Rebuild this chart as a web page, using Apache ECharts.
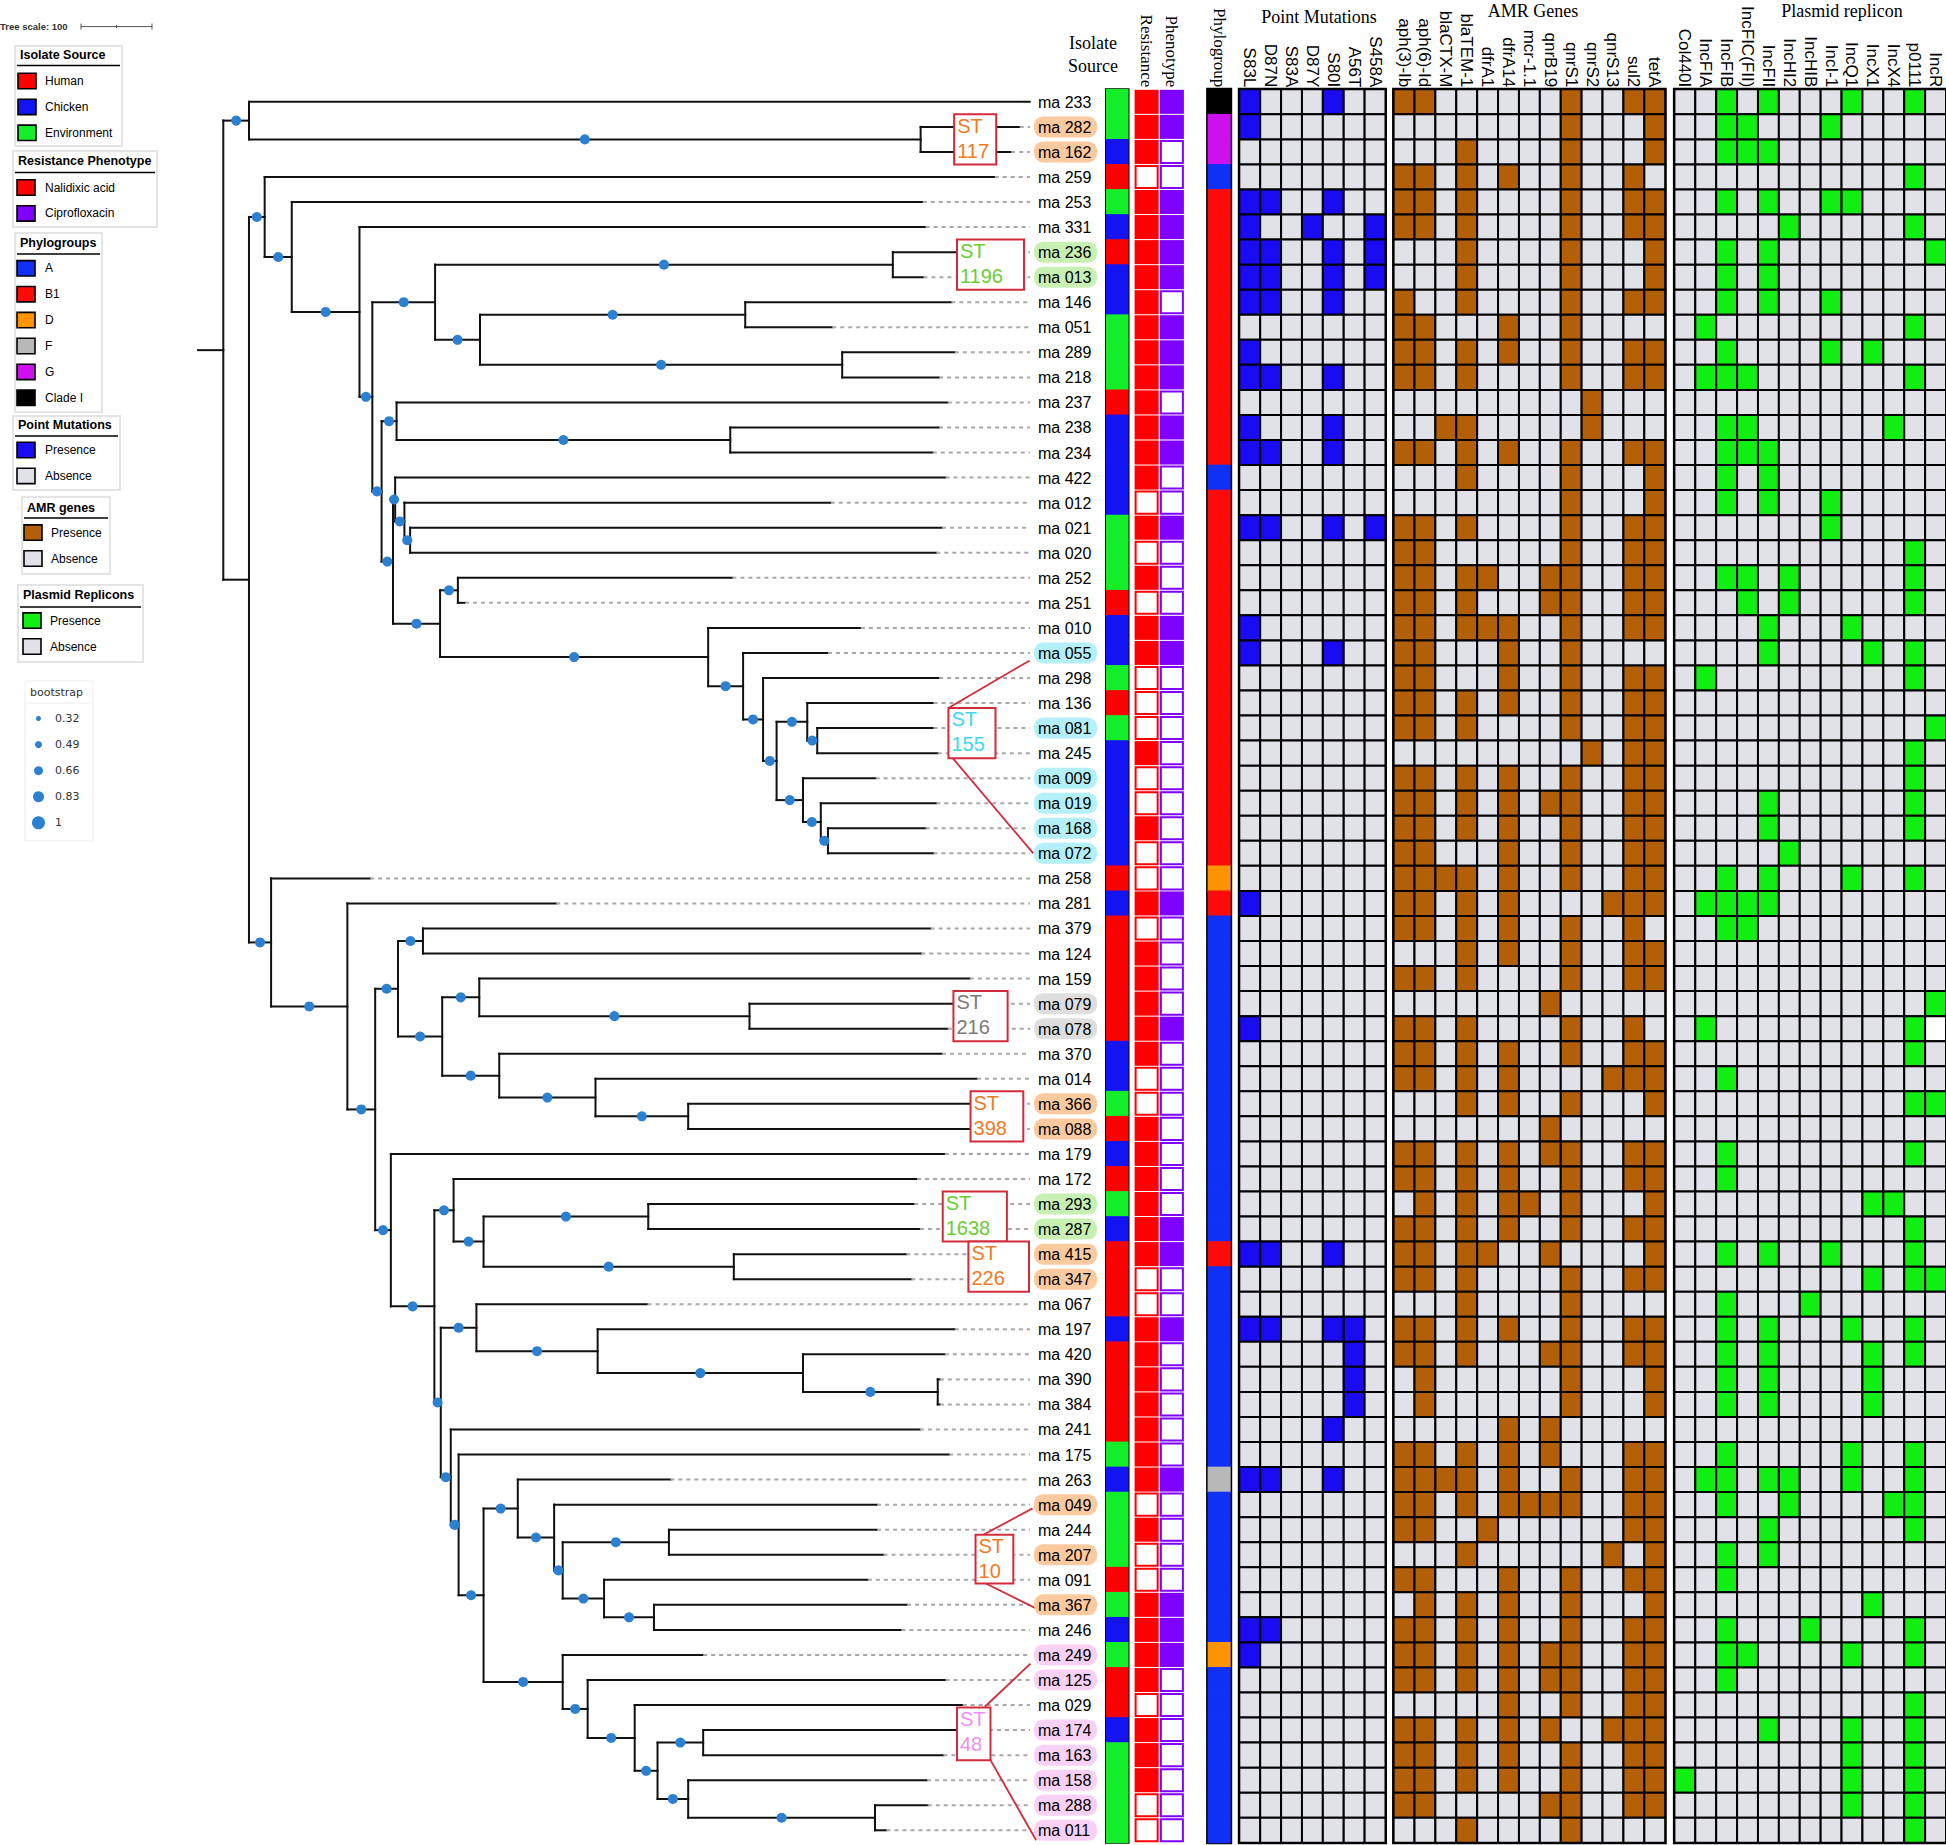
<!DOCTYPE html>
<html>
<head>
<meta charset="utf-8">
<script src="https://cdn.jsdelivr.net/npm/echarts@6.0.0/dist/echarts.min.js"></script>
<style>
html,body{margin:0;padding:0;background:#fff;}
#chart{width:1946px;height:1845px;}
</style>
</head>
<body>
<div id="chart"></div>
<script>
// ================= DATA =================
const isolates = ['ma 233','ma 282','ma 162','ma 259','ma 253','ma 331','ma 236','ma 013','ma 146','ma 051',
'ma 289','ma 218','ma 237','ma 238','ma 234','ma 422','ma 012','ma 021','ma 020','ma 252',
'ma 251','ma 010','ma 055','ma 298','ma 136','ma 081','ma 245','ma 009','ma 019','ma 168',
'ma 072','ma 258','ma 281','ma 379','ma 124','ma 159','ma 079','ma 078','ma 370','ma 014',
'ma 366','ma 088','ma 179','ma 172','ma 293','ma 287','ma 415','ma 347','ma 067','ma 197',
'ma 420','ma 390','ma 384','ma 241','ma 175','ma 263','ma 049','ma 244','ma 207','ma 091',
'ma 367','ma 246','ma 249','ma 125','ma 029','ma 174','ma 163','ma 158','ma 288','ma 011'];

// isolate source: H = Human, C = Chicken, E = Environment
const sourceCodes = ['E','E','C','H','E','C','H','C','C','E',
'E','E','H','C','C','C','C','E','E','E',
'H','C','C','E','H','E','C','C','C','C',
'C','H','C','H','H','H','H','H','C','C',
'E','H','C','H','E','C','H','H','H','C',
'H','H','H','H','E','C','E','E','E','H',
'E','C','E','H','H','C','E','E','E','E'];

const nalidixic = [1,1,1,0,1,1,1,1,1,1, 1,1,1,1,1,1,0,1,0,1, 0,1,1,0,0,0,1,0,0,1,
0,0,1,0,1,1,1,1,1,0, 0,1,1,1,1,1,1,0,0,1, 1,1,1,1,1,1,0,1,0,0, 1,1,1,1,0,1,1,1,0,0];
const ciprofloxacin = [1,1,0,0,1,1,1,1,0,1, 1,1,0,1,1,0,0,1,0,0, 0,1,1,0,0,0,0,0,0,0,
0,0,1,0,0,0,0,1,0,0, 0,0,0,0,0,1,1,0,0,1, 0,0,0,0,0,1,0,0,0,0, 1,1,1,0,0,0,0,0,0,0];

// phylogroup: A, B (=B1), D, F, G, I (=Clade I)
const phylogroups = ['I','G','G','A','B','B','B','B','B','B',
'B','B','B','B','B','A','B','B','B','B',
'B','B','B','B','B','B','B','B','B','B',
'B','D','B','A','A','A','A','A','A','A',
'A','A','A','A','A','A','B','A','A','A',
'A','A','A','A','A','F','A','A','A','A',
'A','A','D','A','A','A','A','A','A','A'];

const pmColumns = ['S83L','D87N','S83A','D87Y','S80I','A56T','S458A'];
const pmRows = ['1000100','1000000','0000000','0000000','1100100','1001001','1100101','1100101','1100100','0000000',
'1000000','1100100','0000000','1000100','1100100','0000000','0000000','1100101','0000000','0000000',
'0000000','1000000','1000100','0000000','0000000','0000000','0000000','0000000','0000000','0000000',
'0000000','0000000','1000000','0000000','0000000','0000000','0000000','1000000','0000000','0000000',
'0000000','0000000','0000000','0000000','0000000','0000000','1100100','0000000','0000000','1100110',
'0000010','0000010','0000010','0000100','0000000','1100100','0000000','0000000','0000000','0000000',
'0000000','1100000','1000000','0000000','0000000','0000000','0000000','0000000','0000000','0000000'];

const amrColumns = ['aph(3)-Ib','aph(6)-Id','blaCTX-M','blaTEM-1','dfrA1','dfrA14','mcr-1.1','qnrB19','qnrS1','qnrS2','qnrS13','sul2','tetA'];
const amrRows = ['1100000010011','0000000010001','0001000010001','1101010010010','1101000010011','1101000010011','0001000010001','0001000010001','1001000010011','1100010010000',
'1101010010011','1101000010011','0000000001000','0011000001000','1101010010011','0001000010001','0000000010001','1101000010011','1100000010011','1101100110011',
'1101000110011','1101110010011','1100010010000','1100010010011','1101010010011','1101000010011','0000000001011','1101010010011','1101010110011','1101010010011',
'1100010010011','1111010010011','1101010000111','1101010010010','0001010010011','1101000010011','0000000100000','1101000010010','1101010010011','1101010000111',
'0001010010001','0000000100000','1101010110011','1101010010011','0101011010001','1101010010011','1101100100001','1101000010011','0001000010000','1101010010011',
'1101000110011','0100000010001','0100000010001','0000010100000','1101010100011','1111010010011','1101011110011','1100100000011','0001000000101','1100010010011',
'0101010010001','1101010010011','1101010110011','1101010110011','0000010010011','1101010100111','1101010010011','1101010010011','1100000110011','0001000010000'];

const plasmidColumns = ['Col440I','IncFIA','IncFIB','IncFIC(FII)','IncFII','IncHI2','IncHIB','IncI-1','IncQ1','IncX1','IncX4','p0111','IncR'];
// 1 = presence, 0 = absence, 2 = blank cell
const plasmidRows = ['0010100010010','0011000100000','0011100000000','0000000000010','0010100110000','0000010000010','0010100000001','0010100000000','0010100100000','0100000000010',
'0010000101000','0111000000010','0000000000000','0011000000100','0011100000000','0010100000000','0010100100000','0000000100000','0000000000010','0011010000010',
'0001010000010','0000100010000','0000100001010','0100000000010','0000000000000','0000000000001','0000000000010','0000000000010','0000100000010','0000100000010',
'0000010000000','0010100010010','0111100000000','0011000000000','0000000000000','0000000000000','0000000000001','0100000000012','0000000000010','0010000000000',
'0000000000011','0000000000000','0010000000010','0010000000000','0000000001100','0000000000010','0010100100010','0000000001011','0010001000000','0010100010010',
'0010100001010','0010100001000','0010100001000','0000000000000','0010000010010','0110110010010','0010010000110','0000100000010','0010100000000','0010000000000',
'0000000001000','0010001000010','0011000010010','0010000000000','0000000000010','0000100010010','0000000010010','1000000010010','0000000010010','0000000000010'];

// tree: internal nodes (depth = distance from root, tree-scale units)
const treeNodeIds = ['root','A','ST117','B','C','D','E','F','G','S1196','H','H1','H2','I','I1','I2','J1','J2','J3','J4',
'K','K1','K2','K3','K4','K5','K6','K7','K8','K9','K10','L','M','N','N1','N1a','N1b','N1c','S216','N1e',
'N1f','S398','N2','N3','N3a','N3b','S1638','S226','N4','N4a','N4b','N4c','N4d','N5','N6','N7','N7a','N7b','N7c','S10',
'N7d','N7e','N8','N9','N10','N11','N11a','N12','N12a'];
const treeNodeParents = [null,'root','A','root','B','C','D','E','F','G','G','H','H','F','I','I1','I','J1','J2','J3',
'J1','K','K','K2','K3','K4','K5','K6','K5','K8','K9','B','L','M','N','N1','N1','N1b','N1c','N1b',
'N1e','N1f','N','N2','N3','N3a','N3b','N3b','N3','N4','N4a','N4b','N4c','N4','N5','N6','N7','N7a','N7b','N7c',
'N7c','N7d','N7','N8','N9','N10','N11','N11','N12'];
const treeNodeDepths = [0,36,978,36,58,96,191,209,297,939,360,732,868,222,243,711,238,241,254,262,
304,329,680,729,757,776,819,833,813,838,848,67,174,213,245,280,307,359,738,387,
522,652,235,296,323,365,596,716,305,355,525,813,1002,319,330,365,413,464,476,625,
534,604,476,511,577,609,673,652,914];
const treeNodeBootstrap = [null,0.75,0.75,null,0.75,0.75,0.75,0.75,0.75,0.75,0.75,0.75,0.75,0.75,0.75,0.75,0.75,0.75,0.75,0.75,
0.75,0.75,0.75,0.75,0.75,0.75,0.75,0.75,0.75,0.75,0.75,0.75,0.75,0.75,0.75,0.75,0.75,0.75,0.75,0.75,
0.75,0.75,0.75,0.75,0.75,0.75,0.75,0.75,0.75,0.75,0.75,0.75,0.75,0.75,0.75,0.75,0.75,0.75,0.75,0.75,
0.75,0.75,0.75,0.75,0.75,0.75,0.75,0.75,0.75];
// leaves (same order as isolates)
const leafParents = ['A','ST117','ST117','C','D','E','S1196','S1196','H1','H1',
'H2','H2','I1','I2','I2','J2','J3','J4','J4','K1',
'K1','K2','K3','K4','K6','K7','K7','K8','K9','K10',
'K10','L','M','N1a','N1a','N1c','S216','S216','N1e','N1f',
'S398','S398','N2','N3a','S1638','S1638','S226','S226','N4a','N4b',
'N4c','N4d','N4d','N5','N6','N7a','N7b','S10','S10','N7d',
'N7e','N7e','N8','N9','N10','N11a','N11a','N12','N12a','N12a'];
const leafTips = [1131,1117,1105,1082,981,985,1028,982,1021,854,
1026,1004,1016,1004,995,1013,852,1008,1000,714,
339,894,848,1004,996,996,1002,915,1000,985,
996,206,467,992,979,1047,1026,1016,1008,1057,
1049,1049,1012,973,969,977,958,965,595,1026,
1012,1005,1005,977,1018,627,917,917,926,904,
959,951,673,1013,1037,1029,1010,987,988,930];

const stNames = ['117','1196','155','216','398','1638','226','10','48'];
const stMembers = [['ma 282','ma 162'],['ma 236','ma 013'],['ma 055','ma 081','ma 009','ma 019','ma 168','ma 072'],
['ma 079','ma 078'],['ma 366','ma 088'],['ma 293','ma 287'],['ma 415','ma 347'],['ma 049','ma 207','ma 367'],
['ma 249','ma 125','ma 174','ma 163','ma 158','ma 288','ma 011']];
const bootstrapLegendValues = [0.32,0.49,0.66,0.83,1];

// ================= STYLE / LAYOUT =================
const sourceKeys = ['H','C','E'];
const sourceNames = ['Human','Chicken','Environment'];
const sourceColors = ['#ff0000','#1414f2','#14ee2a'];
const resistNames = ['Nalidixic acid','Ciprofloxacin'];
const resistColors = ['#ff0000','#8000ff'];
const phyloKeys = ['A','B','D','F','G','I'];
const phyloNames = ['A','B1','D','F','G','Clade I'];
const phyloColors = ['#1030f5','#ff0a0a','#ff9400','#b8b8b8','#cc10ee','#000000'];
const pmColor = '#1a0cf2', amrColor = '#b35f08', plColor = '#11ee11', absentColor = '#e1e1e8';
const stTextColors = ['#f07a1e','#6ccc34','#3fd8f0','#7a7a7a','#f07a1e','#6ccc34','#f07a1e','#f07a1e','#f08ef0'];
const stPillColors = ['#fdc99e','#c8f0b2','#b4f0fa','#dedede','#fdc99e','#c8f0b2','#fdc99e','#fdc99e','#f9d0f6'];
const stBoxLayout = [[1025,0.5,1084,2.5],[1029,5.5,1123,7.5],[1017,24.2,1083,26.2],[1024,35.5,1100,37.5],
[1048,39.5,1122,41.5],[1009,43.5,1099,45.5],[1045,45.5,1130,47.5],[1055,57.2,1108,59.15],[1029,64.1,1076,66.2]];
const stConnectorLayout = [[1017,24.2,1131,22.3],[1017,26.0,1136,30.0],[1066,57.2,1135,56.15],[1066,59.1,1144,60.2],[1068,64.07,1132,62.35],[1076,66.2,1140,69.4]];

const GRID_TOP = 89.3, ROW_H = 25.05, NROW = isolates.length, GRID_H = ROW_H*NROW;
const TREE_MIN = -35.5, TREE_MAX = 1131.4;
const SANS = '"Liberation Sans", Arial, sans-serif';
const SERIF = '"Liberation Serif", "Times New Roman", serif';
const bootSize = b => 1.2 + 11.8*b;

// ================= TREE LAYOUT =================
const idIdx = {}; treeNodeIds.forEach((id,i)=>idIdx[id]=i);
const kids = treeNodeIds.map(()=>[]);
treeNodeParents.forEach((p,i)=>{ if(p!==null) kids[idIdx[p]].push({leaf:false,i:i}); });
leafParents.forEach((p,i)=>kids[idIdx[p]].push({leaf:true,i:i}));
const nodeY = [];
function yOf(k){ return k.leaf ? k.i : nodeYOf(k.i); }
function nodeYOf(i){
  if(nodeY[i]===undefined){ const ys = kids[i].map(yOf); nodeY[i] = (Math.min(...ys)+Math.max(...ys))/2; }
  return nodeY[i];
}
const solidSegs = [], dashSegs = [], dots = [];
treeNodeIds.forEach((id,i)=>{
  const ys = kids[i].map(yOf);
  const d = treeNodeDepths[i], y = nodeYOf(i);
  solidSegs.push([d, Math.min(...ys), d, Math.max(...ys)]);
  const p = treeNodeParents[i];
  if(p!==null){
    const pd = treeNodeDepths[idIdx[p]];
    solidSegs.push([pd, y, d, y]);
    if(treeNodeBootstrap[i]!==null) dots.push([(pd+d)/2, y, treeNodeBootstrap[i]]);
  } else {
    solidSegs.push([TREE_MIN, y, d, y]);
  }
});
leafParents.forEach((p,i)=>{
  const pd = treeNodeDepths[idIdx[p]];
  solidSegs.push([pd, i, leafTips[i], i]);
  if(leafTips[i] < TREE_MAX-4) dashSegs.push([leafTips[i], i, TREE_MAX, i]);
});

// pill colours per label
const pill = isolates.map(n=>{ for(let g=0; g<stMembers.length; g++){ if(stMembers[g].indexOf(n)>=0) return stPillColors[g]; } return null; });

// ================= HEATMAP DATA =================
const srcData = sourceCodes.map((c,r)=>[0,r,sourceKeys.indexOf(c)]);
const resData = []; isolates.forEach((n,r)=>{ resData.push([0,r,nalidixic[r]]); resData.push([1,r,ciprofloxacin[r]]); });
const phyData = phylogroups.map((c,r)=>[0,r,phyloKeys.indexOf(c)]);
function matrixData(rows){ const d=[]; rows.forEach((s,r)=>s.split('').forEach((ch,c)=>d.push([c,r,+ch]))); return d; }

// ================= RENDERERS =================
function segRender(dashed){
  return function(params, api){
    const a = api.coord([api.value(0), api.value(1)]);
    const b = api.coord([api.value(2), api.value(3)]);
    return {type:'line', shape:{x1:a[0],y1:a[1],x2:b[0],y2:b[1]},
      style: dashed ? {stroke:'#a9a9a9', lineWidth:2, lineDash:[4,4]} : {stroke:'#111', lineWidth:2, lineCap:'square'}};
  };
}
function cellRender(kind, presentColor){
  return function(params, api){
    const c = api.coord([api.value(0), api.value(1)]);
    const s = api.size([1,1]);
    const v = api.value(2);
    const x0 = c[0]-s[0]/2, y0 = c[1]-s[1]/2;
    if(kind==='src') return {type:'rect', shape:{x:x0,y:y0-0.4,width:s[0],height:s[1]+0.8}, style:{fill:sourceColors[v]}};
    if(kind==='phy') return {type:'rect', shape:{x:x0,y:y0-0.4,width:s[0],height:s[1]+0.8}, style:{fill:phyloColors[v]}};
    if(kind==='res'){
      const col = resistColors[api.value(0)];
      if(v===1) return {type:'rect', shape:{x:x0+0.6,y:y0+0.5,width:s[0]-1.2,height:s[1]-1}, style:{fill:col}};
      return {type:'rect', shape:{x:x0+1.6,y:y0+1.5,width:s[0]-3.2,height:s[1]-3}, style:{fill:'#fff', stroke:col, lineWidth:2}};
    }
    const fill = v===1 ? presentColor : (v===2 ? '#ffffff' : absentColor);
    return {type:'rect', shape:{x:x0,y:y0,width:s[0],height:s[1]}, style:{fill:fill, stroke:'#000', lineWidth:2}};
  };
}
function labelRender(params, api){
  const i = params.dataIndex;
  const p = api.coord([TREE_MAX, api.value(1)]);
  const ch = [];
  if(pill[i]) ch.push({type:'rect', shape:{x:p[0]+4, y:p[1]-10.5, width:63, height:21, r:9}, style:{fill:pill[i]}});
  ch.push({type:'text', style:{text:isolates[i], x:p[0]+8, y:p[1]+0.5, fill:'#000', font:'16px '+SANS, textAlign:'left', textVerticalAlign:'middle', align:'left', verticalAlign:'middle'}});
  return {type:'group', children:ch};
}
function stBoxRender(params, api){
  const i = params.dataIndex;
  const a = api.coord([api.value(0), api.value(1)]);
  const b = api.coord([api.value(2), api.value(3)]);
  const t1 = api.coord([api.value(0), api.value(1)+0.45])[1];
  const t2 = api.coord([api.value(0), api.value(1)+1.45])[1];
  const st = {fill:stTextColors[i], font:'20px '+SANS, textAlign:'left', textVerticalAlign:'middle', align:'left', verticalAlign:'middle'};
  return {type:'group', children:[
    {type:'rect', shape:{x:a[0],y:a[1],width:b[0]-a[0],height:b[1]-a[1]}, style:{fill:'#fff', stroke:'#d22c3c', lineWidth:2}},
    {type:'text', style:Object.assign({text:'ST', x:a[0]+3, y:t1}, st)},
    {type:'text', style:Object.assign({text:stNames[i], x:a[0]+3, y:t2}, st)}
  ]};
}

// ================= AXES / GRIDS =================
const gridSpecs = [
  {left:198, width:832, show:false},
  {left:1106, width:22.5, show:true, borderColor:'#000', borderWidth:2},
  {left:1134, width:50.5, show:false},
  {left:1207.6, width:23.1, show:true, borderColor:'#000', borderWidth:3},
  {left:1239.3, width:146.2, show:true, borderColor:'#000', borderWidth:3},
  {left:1393.6, width:271.6, show:true, borderColor:'#000', borderWidth:3},
  {left:1674.4, width:271.6, show:true, borderColor:'#000', borderWidth:3}
];
const grid = gridSpecs.map(g=>Object.assign({top:GRID_TOP, height:GRID_H, containLabel:false, outerBoundsMode:'none', backgroundColor:'transparent'}, g));

function topCatAxis(gi, data, font, size, show){
  return {type:'category', gridIndex:gi, data:data, position:'top', show:show,
    axisLine:{show:false}, axisTick:{show:false}, splitLine:{show:false},
    axisLabel:{show:true, rotate:90, margin:2, interval:0, color:'#000', fontFamily:font, fontSize:size}};
}
const xAxis = [
  {type:'value', gridIndex:0, min:TREE_MIN, max:TREE_MAX, show:false},
  topCatAxis(1, ['Isolate Source'], SANS, 16, false),
  topCatAxis(2, ['Resistance','Phenotype'], SERIF, 17, true),
  topCatAxis(3, ['Phylogroup'], SERIF, 17, true),
  topCatAxis(4, pmColumns, SANS, 17, true),
  topCatAxis(5, amrColumns, SANS, 17, true),
  topCatAxis(6, plasmidColumns, SANS, 17, true)
];
const yAxis = [{type:'value', gridIndex:0, min:-0.5, max:NROW-0.5, inverse:true, show:false}];
for(let g=1; g<=6; g++) yAxis.push({type:'category', gridIndex:g, data:isolates, inverse:true, show:false});

// ================= SERIES =================
const series = [
  {type:'custom', name:'branches', xAxisIndex:0, yAxisIndex:0, data:solidSegs, renderItem:segRender(false), z:2, silent:true},
  {type:'custom', name:'leaf guides', xAxisIndex:0, yAxisIndex:0, data:dashSegs, renderItem:segRender(true), z:2, silent:true},
  {type:'scatter', name:'bootstrap', xAxisIndex:0, yAxisIndex:0, data:dots, symbol:'circle', symbolSize:v=>bootSize(v[2]), itemStyle:{color:'#2b80d2', opacity:1}, z:4, silent:true},
  {type:'custom', name:'ST links', xAxisIndex:0, yAxisIndex:0, data:stConnectorLayout, renderItem:function(params, api){
      const a = api.coord([api.value(0), api.value(1)]), b = api.coord([api.value(2), api.value(3)]);
      return {type:'line', shape:{x1:a[0],y1:a[1],x2:b[0],y2:b[1]}, style:{stroke:'#d22c3c', lineWidth:1.8}};
    }, z:5, silent:true},
  {type:'custom', name:'ST', xAxisIndex:0, yAxisIndex:0, data:stBoxLayout, renderItem:stBoxRender, z:6, silent:true},
  {type:'custom', name:'labels', xAxisIndex:0, yAxisIndex:0, data:isolates.map((n,i)=>[TREE_MAX,i]), renderItem:labelRender, z:7, silent:true},
  {type:'custom', name:'Isolate Source', xAxisIndex:1, yAxisIndex:1, data:srcData, renderItem:cellRender('src'), silent:true},
  {type:'custom', name:'Resistance Phenotype', xAxisIndex:2, yAxisIndex:2, data:resData, renderItem:cellRender('res'), silent:true},
  {type:'custom', name:'Phylogroup', xAxisIndex:3, yAxisIndex:3, data:phyData, renderItem:cellRender('phy'), silent:true},
  {type:'custom', name:'Point Mutations', xAxisIndex:4, yAxisIndex:4, data:matrixData(pmRows), renderItem:cellRender('mat', pmColor), silent:true},
  {type:'custom', name:'AMR Genes', xAxisIndex:5, yAxisIndex:5, data:matrixData(amrRows), renderItem:cellRender('mat', amrColor), silent:true},
  {type:'custom', name:'Plasmid replicon', xAxisIndex:6, yAxisIndex:6, data:matrixData(plasmidRows), renderItem:cellRender('mat', plColor), silent:true}
];

// ================= GRAPHIC (headers, legend) =================
const graphic = [];
function txt(text, x, y, font, opts){
  graphic.push({type:'text', silent:true, style:Object.assign({text:text, x:x, y:y, font:font, fill:'#000', textAlign:'left', textVerticalAlign:'middle', align:'left', verticalAlign:'middle'}, opts||{})});
}
txt('Isolate', 1093, 43, '18px '+SERIF, {textAlign:'center', align:'center'});
txt('Source', 1093, 66, '18px '+SERIF, {textAlign:'center', align:'center'});
txt('Point Mutations', 1319, 17, '18px '+SERIF, {textAlign:'center', align:'center'});
txt('AMR Genes', 1533, 11, '18px '+SERIF, {textAlign:'center', align:'center'});
txt('Plasmid replicon', 1842, 11, '18px '+SERIF, {textAlign:'center', align:'center'});

// tree scale
txt('Tree scale: 100', 0, 26.6, 'bold 9.5px '+SANS, {fill:'#333'});
graphic.push({type:'line', silent:true, shape:{x1:81,y1:26.6,x2:152,y2:26.6}, style:{stroke:'#555', lineWidth:1}});
[81,116.5,152].forEach((x,k)=>graphic.push({type:'line', silent:true, shape:{x1:x,y1:26.6-(k===1?1.5:3),x2:x,y2:26.6+(k===1?1.5:3)}, style:{stroke:'#555', lineWidth:1}}));

const LEG_STEP = 25.9;
function legendBox(b, title, names, colors){
  graphic.push({type:'rect', silent:true, shape:{x:b.x,y:b.y,width:b.w,height:b.h}, style:{fill:'#fff', stroke:'#e4e4e4', lineWidth:2}});
  txt(title, b.x+5, b.ty, 'bold 12.5px '+SANS);
  graphic.push({type:'line', silent:true, shape:{x1:b.x+2,y1:b.ly,x2:b.x+b.w-2,y2:b.ly}, style:{stroke:'#000', lineWidth:1.5}});
  names.forEach((n,k)=>{
    const y = b.iy + k*LEG_STEP;
    graphic.push({type:'rect', silent:true, shape:{x:b.sx,y:y-7.7,width:18,height:15.4}, style:{fill:colors[k], stroke:'#000', lineWidth:1.6}});
    txt(n, b.tx, y, '12px '+SANS);
  });
}
legendBox({x:15,y:46,w:107,h:100,ty:55,ly:65.5,iy:81,sx:18,tx:45}, 'Isolate Source', sourceNames, sourceColors);
legendBox({x:13,y:151,w:144,h:76,ty:161,ly:172.5,iy:187.5,sx:17,tx:45}, 'Resistance Phenotype', resistNames, resistColors);
legendBox({x:15,y:233,w:87,h:179,ty:243,ly:254,iy:268.3,sx:17,tx:45}, 'Phylogroups', phyloNames, phyloColors);
legendBox({x:13,y:416,w:107,h:74,ty:424.5,ly:436,iy:450,sx:17,tx:45}, 'Point Mutations', ['Presence','Absence'], [pmColor, absentColor]);
legendBox({x:22,y:497,w:88,h:77,ty:507.5,ly:518,iy:532.6,sx:24,tx:51}, 'AMR genes', ['Presence','Absence'], [amrColor, absentColor]);
legendBox({x:18,y:585,w:125,h:77,ty:594.6,ly:607,iy:620.6,sx:23,tx:50}, 'Plasmid Replicons', ['Presence','Absence'], [plColor, absentColor]);

// bootstrap legend
graphic.push({type:'rect', silent:true, shape:{x:25,y:681,width:68,height:160}, style:{fill:'#fff', stroke:'#eeeeee', lineWidth:1}});
txt('bootstrap', 30, 692.5, '11px "DejaVu Sans", sans-serif', {fill:'#333'});
graphic.push({type:'line', silent:true, shape:{x1:27,y1:703,x2:91,y2:703}, style:{stroke:'#eeeeee', lineWidth:1}});
bootstrapLegendValues.forEach((b,k)=>{
  const y = 718.5 + k*26.07;
  graphic.push({type:'circle', silent:true, shape:{cx:38.5, cy:y, r:bootSize(b)/2}, style:{fill:'#2b80d2'}});
  txt(String(b), 55, y, '11px "DejaVu Sans", sans-serif', {fill:'#333'});
});

// ================= CHART =================
const chart = echarts.init(document.getElementById('chart'), null, {renderer:'svg', width:1946, height:1845});
chart.setOption({
  animation:false,
  backgroundColor:'#ffffff',
  grid:grid, xAxis:xAxis, yAxis:yAxis, series:series, graphic:graphic
});
</script>
</body>
</html>
